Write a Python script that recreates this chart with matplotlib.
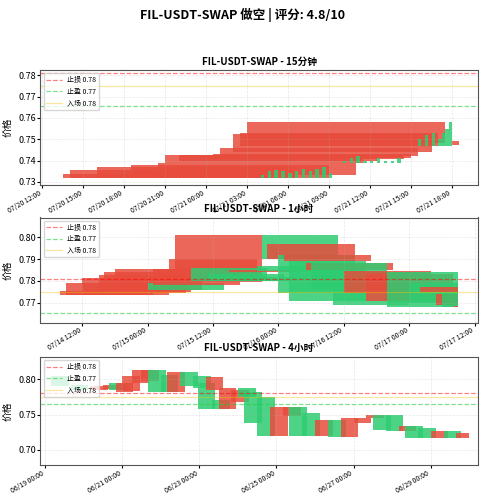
import matplotlib
matplotlib.use("Agg")
import matplotlib.pyplot as plt
import matplotlib.dates as mdates
import pandas as pd

plt.rcParams['font.family'] = ['Noto Sans CJK SC', 'DejaVu Sans']
plt.rcParams['axes.unicode_minus'] = False

STOP, TP, ENTRY = 0.781, 0.7655, 0.775
TITLE = "FIL-USDT-SWAP 做空 | 评分: 4.8/10"

# 15min panel
t15 = ["07-20 13:30","07-20 14:00","07-20 16:00","07-20 18:30","07-20 20:30","07-20 21:00",
       "07-20 22:00","07-21 00:00","07-21 00:30","07-21 01:00","07-21 02:00","07-21 02:30","07-21 03:00",
       "07-21 04:00","07-21 04:30","07-21 05:00","07-21 05:30","07-21 06:00","07-21 06:30",
       "07-21 07:00","07-21 07:30","07-21 08:00","07-21 08:30","07-21 09:00",
       "07-21 10:00","07-21 10:30","07-21 11:00","07-21 11:30","07-21 12:00","07-21 12:30",
       "07-21 13:00","07-21 13:30","07-21 14:00",
       "07-21 15:30","07-21 16:00","07-21 16:30","07-21 17:00","07-21 17:15","07-21 17:30",
       "07-21 17:45","07-21 18:00"]
o15 = [.7320,.7320,.7320,.7320,.7330,.7390,.7400,.7405,.7410,.7420,.7440,.7470,.7480,
       .7330,.7350,.7355,.7350,.7340,.7350,.7360,.7350,.7360,.7370,.7340,
       .7400,.7410,.7420,.7400,.7400,.7410,.7400,.7400,.7410,
       .7500,.7520,.7530,.7500,.7530,.7550,.7580,.7475]
c15 = [.7335,.7355,.7370,.7380,.7390,.7425,.7425,.7428,.7430,.7460,.7525,.7530,.7580,
       .7320,.7320,.7320,.7320,.7320,.7320,.7320,.7320,.7320,.7320,.7320,
       .7390,.7390,.7390,.7390,.7390,.7390,.7390,.7390,.7390,
       .7470,.7470,.7470,.7470,.7470,.7470,.7470,.7490]

# 1h panel
t1h = ["07-14 08:00","07-14 09:00","07-14 12:00","07-14 15:00","07-14 16:00","07-14 18:00",
       "07-15 00:00","07-15 01:00","07-15 04:00","07-15 05:00","07-15 08:00","07-15 11:00",
       "07-15 13:00","07-15 15:00","07-15 20:00","07-15 21:00","07-15 22:00","07-16 00:00",
       "07-16 01:00","07-16 02:00","07-16 05:00","07-16 06:00","07-16 10:00","07-16 12:00",
       "07-16 16:00","07-16 20:00","07-17 00:00","07-17 02:00","07-17 05:00","07-17 06:00",
       "07-17 08:00"]
o1h = [.7735,.7735,.7735,.7745,.7750,.7760,.7790,.7780,.7800,.7795,.7860,.7830,
       .7820,.7840,.7870,.8010,.7900,.7920,.7890,.7890,.7850,.7880,.7840,.7745,
       .7710,.7840,.7790,.7750,.7690,.7745,.7680]
c1h = [.7755,.7790,.7815,.7825,.7840,.7855,.7760,.7855,.7900,.8010,.7800,.7800,
       .7800,.7850,.7845,.7900,.7970,.7745,.7920,.7710,.7880,.7765,.7690,.7845,
       .7830,.7680,.7700,.7770,.7740,.7680,.7685]

# 4h panel
t4h = ["06-19 04:00","06-19 16:00","06-20 04:00","06-20 12:00","06-20 16:00","06-20 20:00",
       "06-21 00:00","06-21 06:00","06-21 12:00","06-21 16:00","06-22 00:00","06-22 04:00",
       "06-22 12:00","06-22 20:00","06-22 23:00","06-23 04:00","06-23 08:00","06-23 12:00",
       "06-23 20:00","06-24 00:00","06-24 04:00","06-24 12:00","06-24 20:00","06-25 04:00",
       "06-25 08:00","06-25 16:00","06-26 00:00","06-26 08:00","06-26 16:00","06-27 00:00",
       "06-27 08:00","06-27 12:00","06-27 20:00","06-28 04:00","06-28 08:00","06-28 16:00",
       "06-29 00:00","06-29 08:00","06-29 16:00"]
o4h = [.805,.792,.785,.786,.795,.782,.784,.795,.798,.814,.807,.782,.811,.805,.795,.785,
       .770,.758,.768,.788,.782,.775,.720,.748,.760,.752,.720,.742,.718,.738,.745,.749,
       .750,.727,.733,.731,.716,.727,.717]
c4h = [.790,.785,.790,.792,.785,.795,.805,.814,.814,.782,.782,.810,.790,.788,.758,.803,
       .758,.788,.785,.775,.738,.720,.760,.760,.720,.720,.742,.718,.745,.745,.749,.728,
       .727,.734,.716,.716,.726,.717,.723]

RED, GREEN = '#e74c3c', '#2ecc71'

def panel(ax, times, year, opens, closes, title, wup, wdn, end_off, xlim, ylim, yticks, xticks):
    x = pd.to_datetime([f"{year}-{t}" for t in times])
    end = x[-1] + pd.Timedelta(hours=end_off)
    xn = mdates.date2num(x)
    endn = mdates.date2num(end)
    for xi, o, c in zip(xn, opens, closes):
        up = c >= o
        w = min((wup if up else wdn) / 24.0, endn - xi)
        ax.bar(xi, abs(c - o), bottom=min(o, c), width=w, align='edge',
               color=RED if up else GREEN, alpha=0.85, linewidth=0)
    ax.axhline(STOP, color='red', ls='--', lw=0.9, alpha=0.5, label=f'止损 {STOP:.2f}')
    ax.axhline(TP, color='#2ecc40', ls='--', lw=0.9, alpha=0.6, label=f'止盈 {TP:.2f}')
    ax.axhline(ENTRY, color='#f1c40f', ls='-', lw=0.9, alpha=0.4, label=f'入场 {ENTRY:.2f}')
    ax.set_title(title, fontsize=7, fontweight='bold', pad=4)
    ax.set_ylabel('价格', fontsize=7)
    ax.set_xlim(pd.to_datetime(f"{year}-{xlim[0]}"), pd.to_datetime(f"{year}-{xlim[1]}"))
    ax.set_ylim(*ylim)
    ax.set_yticks(yticks)
    ax.set_yticklabels([f"{v:.2f}" for v in yticks])
    ax.set_xticks(pd.to_datetime([f"{year}-{t}" for t in xticks]))
    ax.xaxis.set_major_formatter(mdates.DateFormatter('%m/%d %H:%M'))
    ax.tick_params(axis='y', labelsize=6.5, length=2, pad=1)
    ax.tick_params(axis='x', labelsize=5, length=2, pad=1)
    for lab in ax.get_xticklabels():
        lab.set_rotation(30); lab.set_ha('right')
    ax.grid(True, alpha=0.3, lw=0.5, ls='--')
    for s in ax.spines.values():
        s.set_color('#555555')
    ax.legend(loc='upper left', fontsize=5, framealpha=0.8, handlelength=2.2,
              borderpad=0.4, labelspacing=0.5)

fig = plt.figure(figsize=(4.84, 5.0), dpi=100)
fig.suptitle(TITLE, fontsize=9, fontweight='bold', y=0.985)
ax1 = fig.add_axes([0.083, 0.63, 0.905, 0.23])
ax2 = fig.add_axes([0.083, 0.355, 0.905, 0.21])
ax3 = fig.add_axes([0.083, 0.07, 0.905, 0.216])

panel(ax1, t15, 2025, o15, c15, 'FIL-USDT-SWAP - 15分钟', 14.5, 0.25, 0.5,
      ("07-20 11:51", "07-21 19:55"), (0.7285, 0.7825), [.73,.74,.75,.76,.77,.78],
      ["07-20 12:00","07-20 15:00","07-20 18:00","07-20 21:00","07-21 00:00","07-21 03:00",
       "07-21 06:00","07-21 09:00","07-21 12:00","07-21 15:00","07-21 18:00"])
panel(ax2, t1h, 2025, o1h, c1h, 'FIL-USDT-SWAP - 1小时', 16, 14, 1,
      ("07-14 04:17", "07-17 12:40"), (0.761, 0.809), [.77,.78,.79,.80],
      ["07-14 12:00","07-15 00:00","07-15 12:00","07-16 00:00","07-16 12:00","07-17 00:00","07-17 12:00"])
panel(ax3, t4h, 2025, o4h, c4h, 'FIL-USDT-SWAP - 4小时', 11, 11, 8,
      ("06-18 21:00", "06-30 05:30"), (0.678, 0.832), [.70,.75,.80],
      ["06-19 00:00","06-21 00:00","06-23 00:00","06-25 00:00","06-27 00:00","06-29 00:00"])

fig.savefig('out.png', dpi=100)
